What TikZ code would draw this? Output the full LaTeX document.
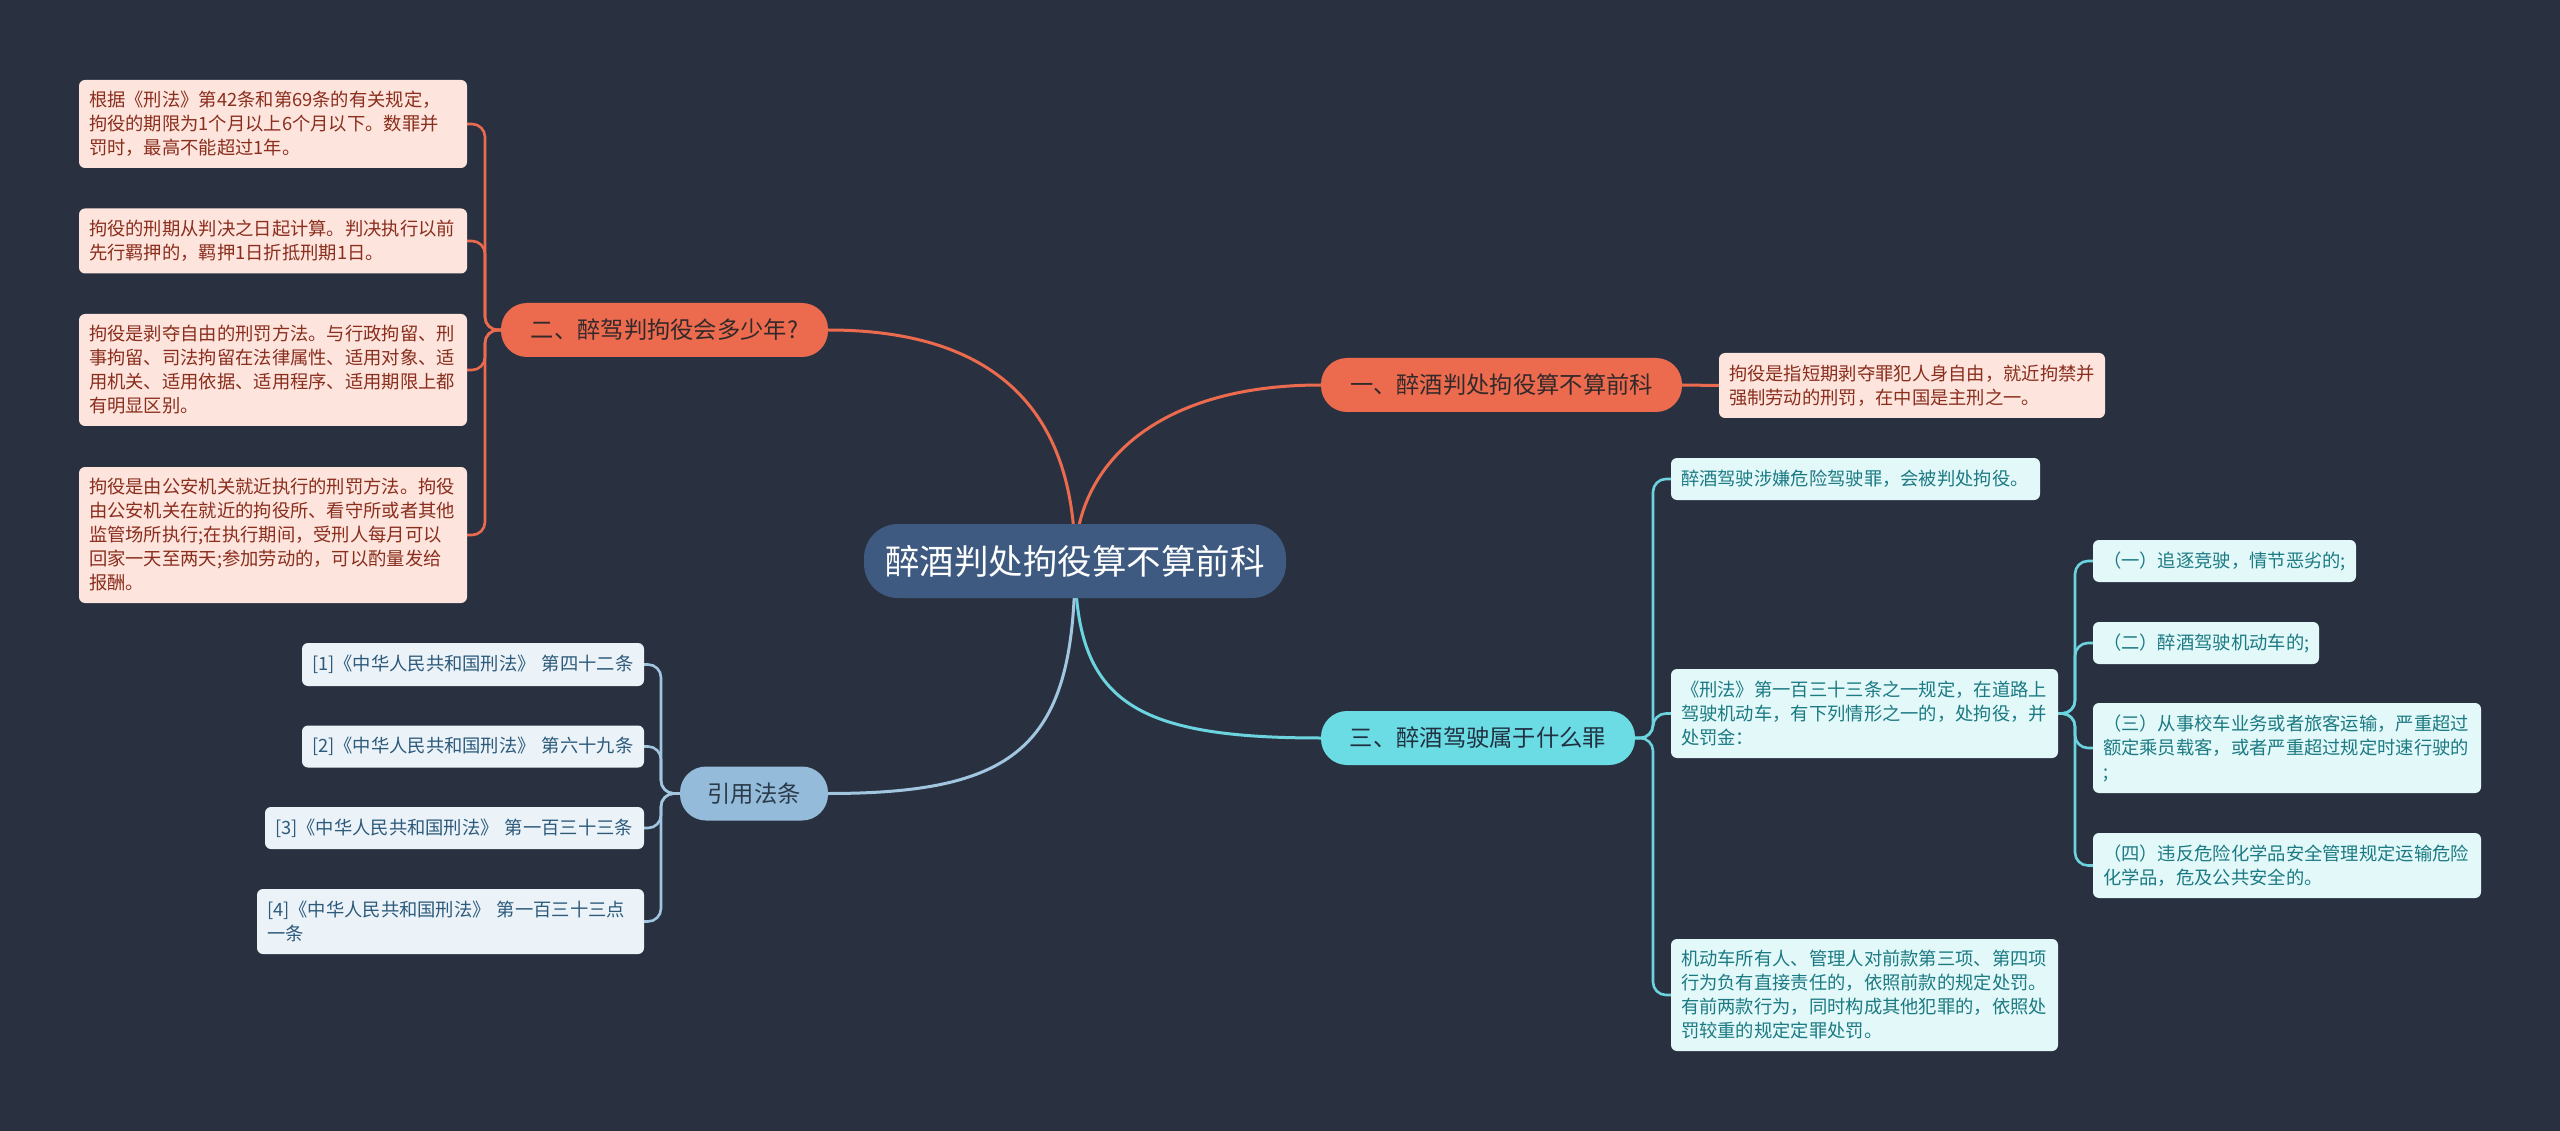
\documentclass[tikz,border=0pt]{standalone}
\usepackage{fontspec}
\setmainfont{Noto Sans CJK SC}
\definecolor{bgc}{HTML}{293140}
\definecolor{ctrfill}{HTML}{3E5A80}
\definecolor{orange}{HTML}{EC6B4E}
\definecolor{oleaffill}{HTML}{FDE4DC}
\definecolor{oleaftext}{HTML}{8A2E1E}
\definecolor{cyanc}{HTML}{6CDCE4}
\definecolor{cyanline}{HTML}{6CD4DF}
\definecolor{cleaffill}{HTML}{E2F8F9}
\definecolor{cleaftext}{HTML}{1C7A83}
\definecolor{bluec}{HTML}{94BCDA}
\definecolor{blueline}{HTML}{A2C6E0}
\definecolor{bleaffill}{HTML}{EBF3F9}
\definecolor{bleaftext}{HTML}{2D5A7B}
\definecolor{pilltext}{HTML}{33292A}
\definecolor{cpilltext}{HTML}{203040}
\definecolor{bpilltext}{HTML}{2B3A4A}
\pgfdeclarelayer{bg}
\pgfsetlayers{bg,main}
\tikzset{
  leafbox/.style={rounded corners=6, inner xsep=10, inner ysep=0, align=left,
    font=\fontsize{18.3}{24}\selectfont},
  oleaf/.style={leafbox, fill=oleaffill, text=oleaftext},
  cleaf/.style={leafbox, fill=cleaffill, text=cleaftext},
  bleaf/.style={leafbox, fill=bleaffill, text=bleaftext},
  pill/.style={rounded corners=26, inner sep=0, minimum height=54,
    font=\fontsize{23.3}{28}\selectfont},
  opill/.style={pill, fill=orange, text=pilltext},
  cpill/.style={pill, fill=cyanc, text=cpilltext},
  bpill/.style={pill, fill=bluec, text=bpilltext},
  mainline/.style={line width=3},
  oline/.style={mainline, draw=orange},
  cline/.style={mainline, draw=cyanline},
  bline/.style={mainline, draw=blueline},
  obus/.style={line width=2.6, draw=orange, rounded corners=13},
  cbus/.style={line width=2.6, draw=cyanline, rounded corners=13},
  bbus/.style={line width=2.6, draw=blueline, rounded corners=13},
}
\begin{document}
\begin{tikzpicture}[x=1pt,y=-1pt]
\useasboundingbox (0,0) rectangle (2560,1131);
% center
\node[rounded corners=34, fill=ctrfill, text=white, minimum width=422, minimum height=74, inner sep=0,
  font=\fontsize{34.5}{40}\selectfont] (ctr) at (1075,561) {醉酒判处拘役算不算前科};
% branch pills
\node[opill, minimum width=361] (p1) at (1501.5,385) {一、醉酒判处拘役算不算前科};
\node[opill, minimum width=327] (p2) at (664.5,330) {二、醉驾判拘役会多少年?};
\node[cpill, minimum width=314] (p3) at (1478,738) {三、醉酒驾驶属于什么罪};
\node[bpill, minimum width=148] (p4) at (754,793.5) {引用法条};
% branch 1 leaf
\node[oleaf, text width=366, minimum height=65] (r1) at (1912,385.5)
  {拘役是指短期剥夺罪犯人身自由，就近拘禁并\\强制劳动的刑罚，在中国是主刑之一。};
% branch 2 leaves
\node[oleaf, text width=368, minimum height=88] (la) at (273,124)
  {根据《刑法》第42条和第69条的有关规定，\\拘役的期限为1个月以上6个月以下。数罪并\\罚时，最高不能超过1年。};
\node[oleaf, text width=368, minimum height=65] (lb) at (273,241)
  {拘役的刑期从判决之日起计算。判决执行以前\\先行羁押的，羁押1日折抵刑期1日。};
\node[oleaf, text width=368, minimum height=112] (lc) at (273,370)
  {拘役是剥夺自由的刑罚方法。与行政拘留、刑\\事拘留、司法拘留在法律属性、适用对象、适\\用机关、适用依据、适用程序、适用期限上都\\有明显区别。};
\node[oleaf, text width=368, minimum height=136] (ld) at (273,535)
  {拘役是由公安机关就近执行的刑罚方法。拘役\\由公安机关在就近的拘役所、看守所或者其他\\监管场所执行;在执行期间，受刑人每月可以\\回家一天至两天;参加劳动的，可以酌量发给\\报酬。};
% branch 3 leaves
\node[cleaf, text width=349, minimum height=42] (t1) at (1855.5,479)
  {醉酒驾驶涉嫌危险驾驶罪，会被判处拘役。};
\node[cleaf, text width=367, minimum height=89] (t2) at (1864.5,713.5)
  {《刑法》第一百三十三条之一规定，在道路上\\驾驶机动车，有下列情形之一的，处拘役，并\\处罚金：};
\node[cleaf, text width=367, minimum height=112] (t3) at (1864.5,995)
  {机动车所有人、管理人对前款第三项、第四项\\行为负有直接责任的，依照前款的规定处罚。\\有前两款行为，同时构成其他犯罪的，依照处\\罚较重的规定定罪处罚。};
\node[cleaf, text width=243, minimum height=42] (s1) at (2224.5,561)
  {（一）追逐竞驶，情节恶劣的;};
\node[cleaf, text width=206, minimum height=42] (s2) at (2206,643)
  {（二）醉酒驾驶机动车的;};
\node[cleaf, text width=368, minimum height=90] (s3) at (2287,748)
  {（三）从事校车业务或者旅客运输，严重超过\\额定乘员载客，或者严重超过规定时速行驶的\\;};
\node[cleaf, text width=368, minimum height=65] (s4) at (2287,865.5)
  {（四）违反危险化学品安全管理规定运输危险\\化学品，危及公共安全的。};
% branch 4 leaves
\node[bleaf, text width=322, minimum height=43] (q1) at (473,664.5)
  {[1]《中华人民共和国刑法》 第四十二条};
\node[bleaf, text width=322, minimum height=42] (q2) at (473,746.5)
  {[2]《中华人民共和国刑法》 第六十九条};
\node[bleaf, text width=359, minimum height=42] (q3) at (454.5,828)
  {[3]《中华人民共和国刑法》 第一百三十三条};
\node[bleaf, text width=367, minimum height=65] (q4) at (450.5,921.5)
  {[4]《中华人民共和国刑法》 第一百三十三点\\一条};
% bus coordinates
\coordinate (b2) at (485,330);
\coordinate (b3) at (1653,738);
\coordinate (b4) at (661,793.5);
\coordinate (bs) at (2075,713.5);
\begin{pgfonlayer}{bg}
\fill[bgc] (0,0) rectangle (2560,1131);
\draw[oline] (ctr.center) .. controls (1075,470) and (1150,385) .. (p1.west);
\draw[oline] (ctr.center) .. controls (1075,380) and (960,330) .. (p2.east);
\draw[cline] (ctr.center) .. controls (1075,700) and (1130,738) .. (p3.west);
\draw[bline] (ctr.center) .. controls (1075,744) and (1020,793.5) .. (p4.east);
\draw[oline] (p1.east) -- (r1.west);
\foreach \n in {la,lb,lc,ld} \draw[obus] (p2.west) -- (b2) |- (\n.east);
\foreach \n in {t1,t2,t3} \draw[cbus] (p3.east) -- (b3) |- (\n.west);
\foreach \n in {s1,s2,s3,s4} \draw[cbus] (t2.east) -- (bs) |- (\n.west);
\foreach \n in {q1,q2,q3,q4} \draw[bbus] (p4.west) -- (b4) |- (\n.east);
\end{pgfonlayer}
\end{tikzpicture}
\end{document}
